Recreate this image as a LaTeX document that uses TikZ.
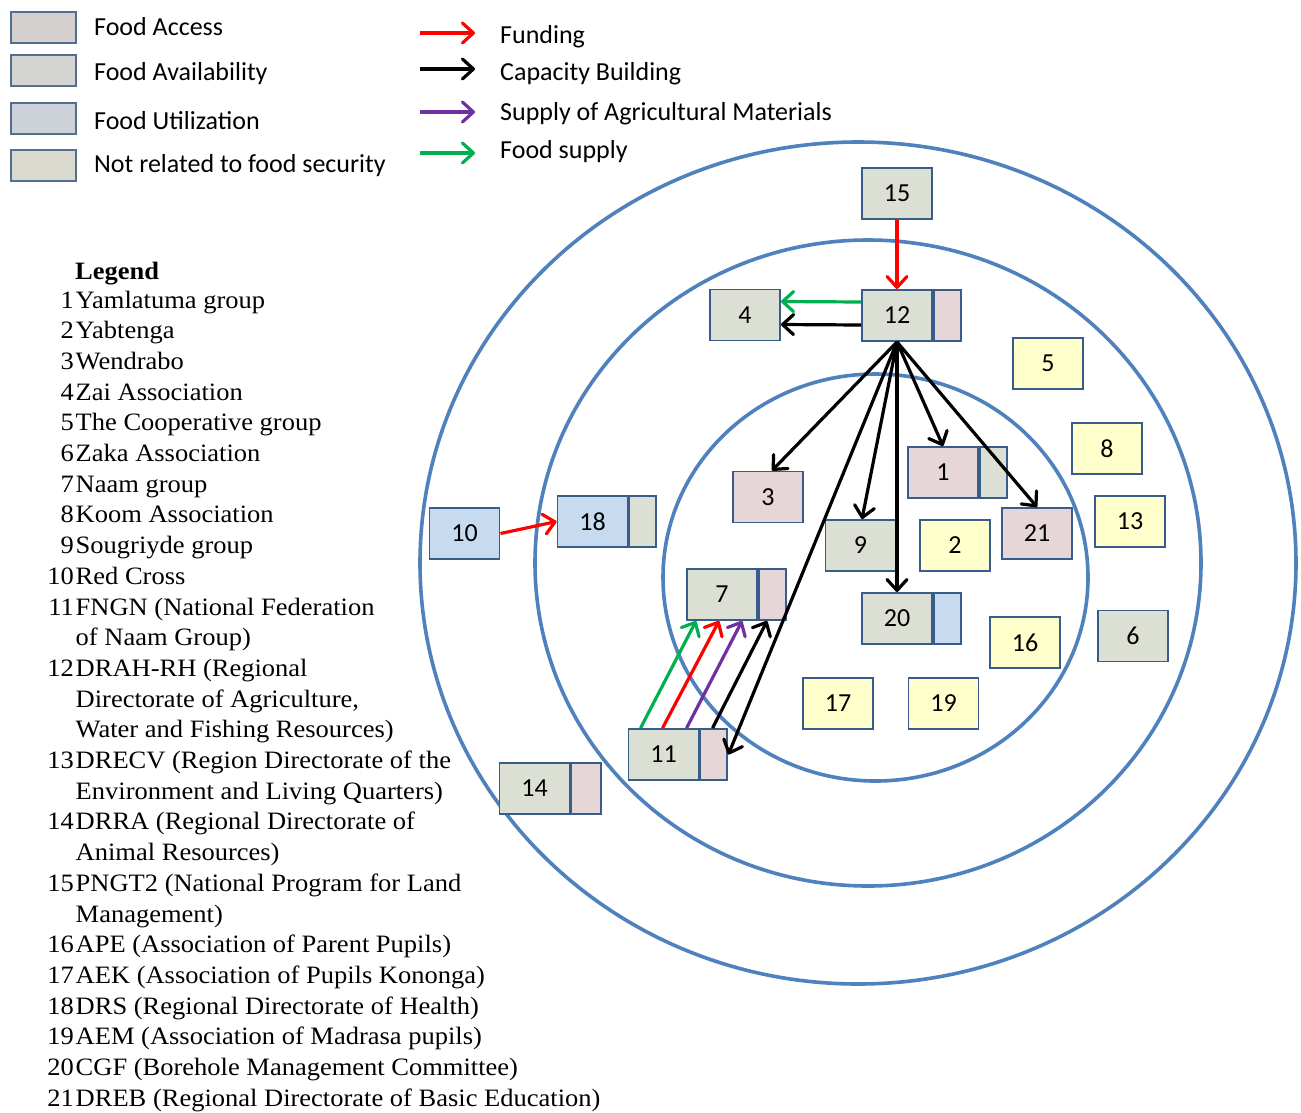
\documentclass[tikz,border=0pt]{standalone}
\usepackage{fontspec}
\setmainfont{Liberation Serif}[FakeStretch=1.06]
\newfontfamily\calibri{Carlito}
\usetikzlibrary{arrows.meta}

\definecolor{ringblue}{RGB}{79,129,189}
\definecolor{edgeblue}{RGB}{56,93,138}
\definecolor{keyedge}{RGB}{84,110,146}
\definecolor{cgray}{RGB}{220,223,212}
\definecolor{cpink}{RGB}{230,214,216}
\definecolor{cblue}{RGB}{198,219,239}
\definecolor{cyellow}{RGB}{255,255,204}
\definecolor{kaccess}{RGB}{213,208,208}
\definecolor{kavail}{RGB}{212,212,210}
\definecolor{kutil}{RGB}{205,210,217}
\definecolor{knone}{RGB}{218,218,208}
\definecolor{fundred}{RGB}{255,0,0}
\definecolor{supplypurple}{RGB}{112,48,160}
\definecolor{foodgreen}{RGB}{0,176,80}

\begin{document}
\begin{tikzpicture}[x=1pt,y=-1pt,
  box/.style={draw=edgeblue, line width=1.9pt, minimum width=70pt, minimum height=51pt,
    inner sep=0pt, font=\calibri\fontsize{26}{30}\selectfont},
  side/.style={draw=edgeblue, line width=1.9pt, minimum width=27pt, minimum height=51pt,
    inner sep=0pt, anchor=west},
  ring/.style={draw=ringblue, line width=3.6pt},
  link/.style={line width=3.2pt, -{Straight Barb[length=11pt,width=20pt,line cap=round,line join=round]}},
  keybox/.style={draw=keyedge, line width=2.4pt, minimum width=65pt, minimum height=31pt, inner sep=0pt},
  keytext/.style={anchor=base west, font=\calibri\fontsize{26}{30}\selectfont, inner sep=0pt},
  entry/.style={anchor=base west, font=\fontsize{25}{30}\selectfont, inner sep=0pt},
  entrynum/.style={anchor=base east, font=\fontsize{25}{30}\selectfont, inner sep=0pt},
]
\fill[white] (0,0) rectangle (1301,1112);
\useasboundingbox (0,0) rectangle (1301,1112);

% concentric rings
\draw[ring] (858,563) ellipse [x radius=438pt, y radius=421pt];
\draw[ring] (868,563) ellipse [x radius=333pt, y radius=323pt];
\draw[ring] (875.5,577.5) ellipse [x radius=212.5pt, y radius=203.5pt];

% colour key
\node[keybox, fill=kaccess] (ka) at (43.5,27.5) {};
\node[keybox, fill=kavail]  (kv) at (43.5,70.5) {};
\node[keybox, fill=kutil]   (ku) at (43.5,118.5) {};
\node[keybox, fill=knone]   (kn) at (43.5,165.5) {};
\node[keytext] (kat) at (94,35)  {Food Access};
\node[keytext] (kvt) at (94,80)  {Food Availability};
\node[keytext] (kut) at (94,129) {Food Utilization};
\node[keytext] (knt) at (94,172) {Not related to food security};

% arrow key
\coordinate (fa) at (420,33);  \coordinate (fb) at (475,33);
\coordinate (ca) at (420,69);  \coordinate (cb) at (475,69);
\coordinate (sa) at (420,112); \coordinate (sb) at (475,112);
\coordinate (ga) at (420,153); \coordinate (gb) at (475,153);
\draw[link, fundred] (fa) -- (fb);
\draw[link, black] (ca) -- (cb);
\draw[link, supplypurple] (sa) -- (sb);
\draw[link, foodgreen] (ga) -- (gb);
\node[keytext] (fat) at (500,43)  {Funding};
\node[keytext] (cat) at (500,80)  {Capacity Building};
\node[keytext] (sat) at (500,120) {Supply of Agricultural Materials};
\node[keytext] (gat) at (500,158) {Food supply};

% numbered legend
\node[entry, font=\bfseries\fontsize{25}{30}\selectfont] (lg) at (75,279) {Legend};
\foreach \k/\n/\t in {0/1/Yamlatuma group, 1/2/Yabtenga, 2/3/Wendrabo, 3/4/Zai Association,
    4/5/The Cooperative group, 5/6/Zaka Association, 6/7/Naam group, 7/8/Koom Association,
    8/9/Sougriyde group, 9/10/Red Cross, 10/11/FNGN (National Federation,
    12/12/DRAH-RH (Regional, 15/13/DRECV (Region Directorate of the,
    17/14/DRRA (Regional Directorate of, 19/15/PNGT2 (National Program for Land,
    21/16/APE (Association of Parent Pupils), 22/17/AEK (Association of Pupils Kononga),
    23/18/DRS (Regional Directorate of Health), 24/19/AEM (Association of Madrasa pupils),
    25/20/CGF (Borehole Management Committee), 26/21/DREB (Regional Directorate of Basic Education)}
{
  \node[entrynum] (num\n) at (74,308+30.7*\k) {\n};
  \node[entry] (ent\n) at (75.5,308+30.7*\k) {\t};
}
\foreach \k/\t in {11/of Naam Group), 13/{Directorate of Agriculture,}, 14/Water and Fishing Resources),
    16/Environment and Living Quarters), 18/Animal Resources), 20/Management)}
{
  \node[entry] (cont\k) at (75.5,308+30.7*\k) {\t};
}

% actors
\node[box, fill=cgray]   (n15) at (897,193.5) {15};
\node[box, fill=cgray]   (n12) at (897,315.5) {12};
\node[side, fill=cpink]  (n12s) at (n12.east) {};
\node[box, fill=cgray]   (n4)  at (745,315) {4};
\node[box, fill=cyellow] (n5)  at (1048,363.5) {5};
\node[box, fill=cyellow] (n8)  at (1107,448.5) {8};
\node[box, fill=cyellow] (n13) at (1130,521.5) {13};
\node[box, fill=cgray]   (n6)  at (1133,636) {6};
\node[box, fill=cpink]   (n21) at (1037,533.5) {21};
\node[box, fill=cyellow] (n16) at (1025,642.5) {16};
\node[box, fill=cpink]   (n1)  at (943,472.5) {1};
\node[side, fill=cgray]  (n1s) at (n1.east) {};
\node[box, fill=cgray]   (n9)  at (860.5,545.5) {9};
\node[box, fill=cyellow] (n2)  at (955,545.5) {2};
\node[box, fill=cgray]   (n20) at (897,618.5) {20};
\node[side, fill=cblue]  (n20s) at (n20.east) {};
\node[box, fill=cyellow] (n17) at (838,703.5) {17};
\node[box, fill=cyellow] (n19) at (943.5,703.5) {19};
\node[box, fill=cpink]   (n3)  at (768,497) {3};
\node[box, fill=cgray]   (n7)  at (722,594.5) {7};
\node[side, fill=cpink]  (n7s) at (n7.east) {};
\node[box, fill=cgray]   (n11) at (663.5,754.5) {11};
\node[side, fill=cpink]  (n11s) at (n11.east) {};
\node[box, fill=cblue]   (n10) at (464.5,533.5) {10};
\node[box, fill=cblue]   (n18) at (592.5,521.5) {18};
\node[side, fill=cgray]  (n18s) at (n18.east) {};
\node[box, fill=cgray]   (n14) at (534.5,788.5) {14};
\node[side, fill=cpink, minimum width=30pt] (n14s) at (n14.east) {};

% flows
\draw[link, fundred] (n15) -- (n12);
\draw[link, foodgreen] ([yshift=13.5pt]n12.west) -- ([yshift=13.5pt]n4.east);
\draw[link, black] ([yshift=-9.5pt]n12.west) -- ([yshift=-9.5pt]n4.east);
\draw[link, black] (n12.south) -- ([xshift=4pt]n3.north);
\draw[link, black] (n12.south) -- ([xshift=1.5pt]n9.north);
\draw[link, black] (n12.south) -- (n20.north);
\draw[link, black] (n12.south) -- (n1.north);
\draw[link, black] (n12.south) -- (n21.north);
\draw[link, black] (n12.south) -- (n11s.east);
\draw[link, fundred] (n10.east) -- (n18.west);
\draw[link, foodgreen] ([xshift=13pt]n11.north west) -- ([xshift=10pt]n7.south west);
\draw[link, fundred] ([xshift=35pt]n11.north west) -- ([xshift=33pt]n7.south west);
\draw[link, supplypurple] ([xshift=59pt]n11.north west) -- ([xshift=56pt]n7.south west);
\draw[link, black] ([xshift=85pt]n11.north west) -- ([xshift=81pt]n7.south west);
\end{tikzpicture}
\end{document}
